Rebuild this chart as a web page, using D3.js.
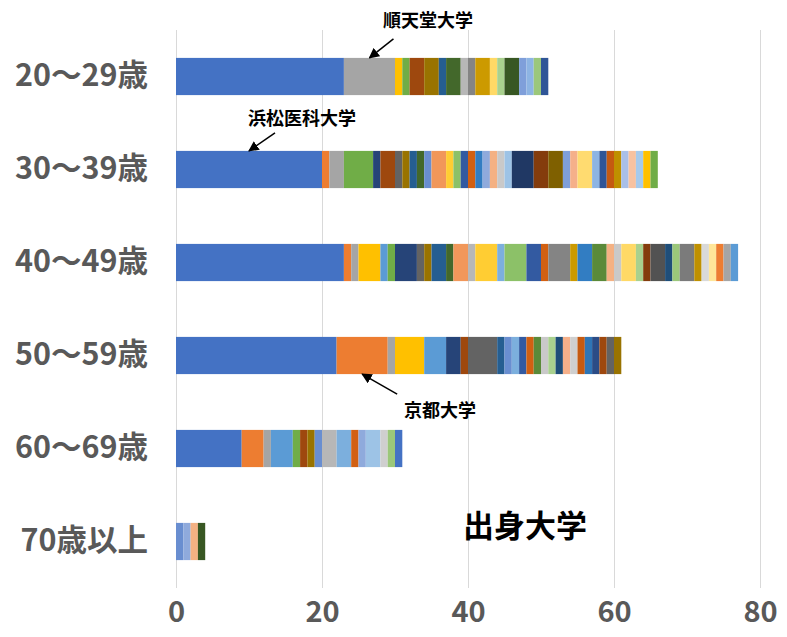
<!DOCTYPE html>
<html><head><meta charset="utf-8">
<script src="https://cdn.jsdelivr.net/npm/d3@7"></script>
<style>
body{margin:0;background:#fff}
text{font-family:"Noto Sans CJK JP","Noto Sans",sans-serif;font-weight:bold}
</style>
</head><body>
<svg id="chart" width="787" height="637"></svg>
<script>
// ---- data ----
const categories = ["20～29歳","30～39歳","40～49歳","50～59歳","60～69歳","70歳以上"];
const tickValues = [0, 20, 40, 60, 80];
// series (university) index of each stacked segment, per age group
const segSeries = [
  [0,2,3,5,7,9,10,11,14,20,21,27,29,35,36,40,41,42],
  [0,1,2,5,6,7,8,9,10,11,12,13,15,17,18,19,22,24,25,26,28,30,31,33,36,37,39,40,42,43,45,48,49,52,57,59],
  [0,1,2,3,4,5,6,8,9,10,11,13,14,15,16,17,18,19,20,21,22,23,25,26,27,29,31,32,34,41,44,45,50,51,55,56,58],
  [0,1,2,3,4,6,7,8,10,12,16,18,19,23,26,29,34,37,38,43,46,60,61,62,63],
  [0,1,2,4,5,7,9,12,14,16,19,24,28,38,41,54],
  [12,24,25,35]
];
// number of people from each of those universities
const segValues = [
  [23,7,1,1,2,2,1,2,1,1,2,1,1,2,1,1,1,1],
  [20,1,2,4,1,2,1,1,1,1,1,2,1,1,1,1,1,1,1,1,1,3,2,2,1,1,2,1,1,1,1,1,1,1,1,1],
  [23,1,1,3,1,1,3,1,1,2,1,2,1,3,1,3,2,1,3,1,2,2,1,1,2,1,1,2,1,1,2,1,1,1,1,1,1],
  [22,7,1,4,3,2,1,4,1,1,1,1,1,1,1,1,1,1,1,1,1,1,1,1,1],
  [9,3,1,3,1,1,1,1,2,2,1,1,2,1,1,1],
  [1,1,1,1]
];
// series colours (Office chart palette order)
const palette = [
  "#4472C4","#ED7D31","#A5A5A5","#FFC000","#5B9BD5","#70AD47",
  "#264478","#9E480E","#636363","#997300","#255E91","#43682B",
  "#698ED0","#F1975A","#B7B7B7","#FFCD33","#7CAFDD","#8CC168",
  "#335AA1","#D26012","#848484","#CC9A00","#327DC2","#5A8A39",
  "#8FAADC","#F4B183","#C9C9C9","#FFD966","#9DC3E6","#A9D18E",
  "#203864","#843C0C","#525252","#7F6000","#1F4E79","#385723",
  "#7F9FDA","#F5B08A","#CFCFCF","#FFDB70","#8DB4E3","#9BC77A",
  "#2F5597","#C55A11","#7B7B7B","#BF9000","#2E75B6","#548235",
  "#A9BFE8","#F8C2A0","#D9D9D9","#FFE699","#A6CAEC","#C5E0B4",
  "#4472C4","#ED7D31","#A5A5A5","#FFC000","#5B9BD5","#70AD47",
  "#2B4C86","#9E480E","#636363","#997300","#255E91","#43682B"
];
const annotations = [
  {text:"順天堂大学",   cat:0, series:2, side:"top",    dx:24,  dy:-19, tx:428, ty:19},
  {text:"浜松医科大学", cat:1, series:0, side:"top",    dx:26,  dy:-18, tx:302, ty:117},
  {text:"京都大学",     cat:3, series:1, side:"bottom", dx:35,  dy:20,  tx:440, ty:409}
];
const title = "出身大学";

// ---- chart ----
const svg = d3.select("#chart");
const nSeries = palette.length;
const rows = categories.map((c, i) => {
  const r = {cat: c};
  d3.range(nSeries).forEach(k => r[k] = 0);
  segSeries[i].forEach((s, j) => r[s] = segValues[i][j]);
  return r;
});
const stacked = d3.stack().keys(d3.range(nSeries))(rows);

const x = d3.scaleLinear().domain([0, 80]).range([176, 760]);
const y = d3.scaleBand().domain(categories).range([30, 588]).paddingInner(0.6).paddingOuter(0.3);

// gridlines + x labels
const gx = svg.append("g").attr("transform", "translate(0,588)")
  .call(d3.axisBottom(x).tickValues(tickValues).tickSize(-558).tickPadding(13).tickFormat(d3.format("d")));
gx.select(".domain").remove();
gx.selectAll(".tick line").attr("stroke", "#d9d9d9").attr("stroke-width", 1);
gx.selectAll(".tick text").attr("fill", "#595959").style("font-size", "29px").style("font-family", "'Noto Sans CJK JP',sans-serif");

// y labels
const gy = svg.append("g").attr("transform", "translate(176,0)")
  .call(d3.axisLeft(y).tickSize(0).tickPadding(28));
gy.select(".domain").remove();
gy.selectAll(".tick text").attr("fill", "#595959").style("font-size", "30.5px").style("font-family", "'Noto Sans CJK JP',sans-serif");

// bars
svg.append("g").selectAll("g").data(stacked).join("g")
  .attr("fill", d => palette[d.key])
  .selectAll("rect").data(d => d.filter(v => v[1] > v[0])).join("rect")
  .attr("x", d => x(d[0]))
  .attr("width", d => x(d[1]) - x(d[0]))
  .attr("y", d => y(d.data.cat))
  .attr("height", y.bandwidth());

// annotations
svg.append("defs").append("marker").attr("id", "ah")
  .attr("viewBox", "0 0 10 10").attr("refX", 9).attr("refY", 5)
  .attr("markerWidth", 7).attr("markerHeight", 7).attr("orient", "auto")
  .append("path").attr("d", "M0,0L10,5L0,10Z").attr("fill", "#000");

annotations.forEach(a => {
  const seg = stacked[a.series][a.cat];
  const hx = x((seg[0] + seg[1]) / 2);
  const hy = a.side === "top" ? y(categories[a.cat]) : y(categories[a.cat]) + y.bandwidth();
  svg.append("line").attr("x1", hx + a.dx).attr("y1", hy + a.dy).attr("x2", hx).attr("y2", hy)
    .attr("stroke", "#000").attr("stroke-width", 1.5).attr("marker-end", "url(#ah)");
  svg.append("text").attr("x", a.tx).attr("y", a.ty).attr("text-anchor", "middle")
    .attr("dominant-baseline", "central").style("font-size", "18px").attr("fill", "#000").text(a.text);
});

svg.append("text").attr("x", 525).attr("y", 523).attr("text-anchor", "middle")
  .attr("dominant-baseline", "central").style("font-size", "31px").attr("fill", "#000").text(title);
</script>
</body></html>
